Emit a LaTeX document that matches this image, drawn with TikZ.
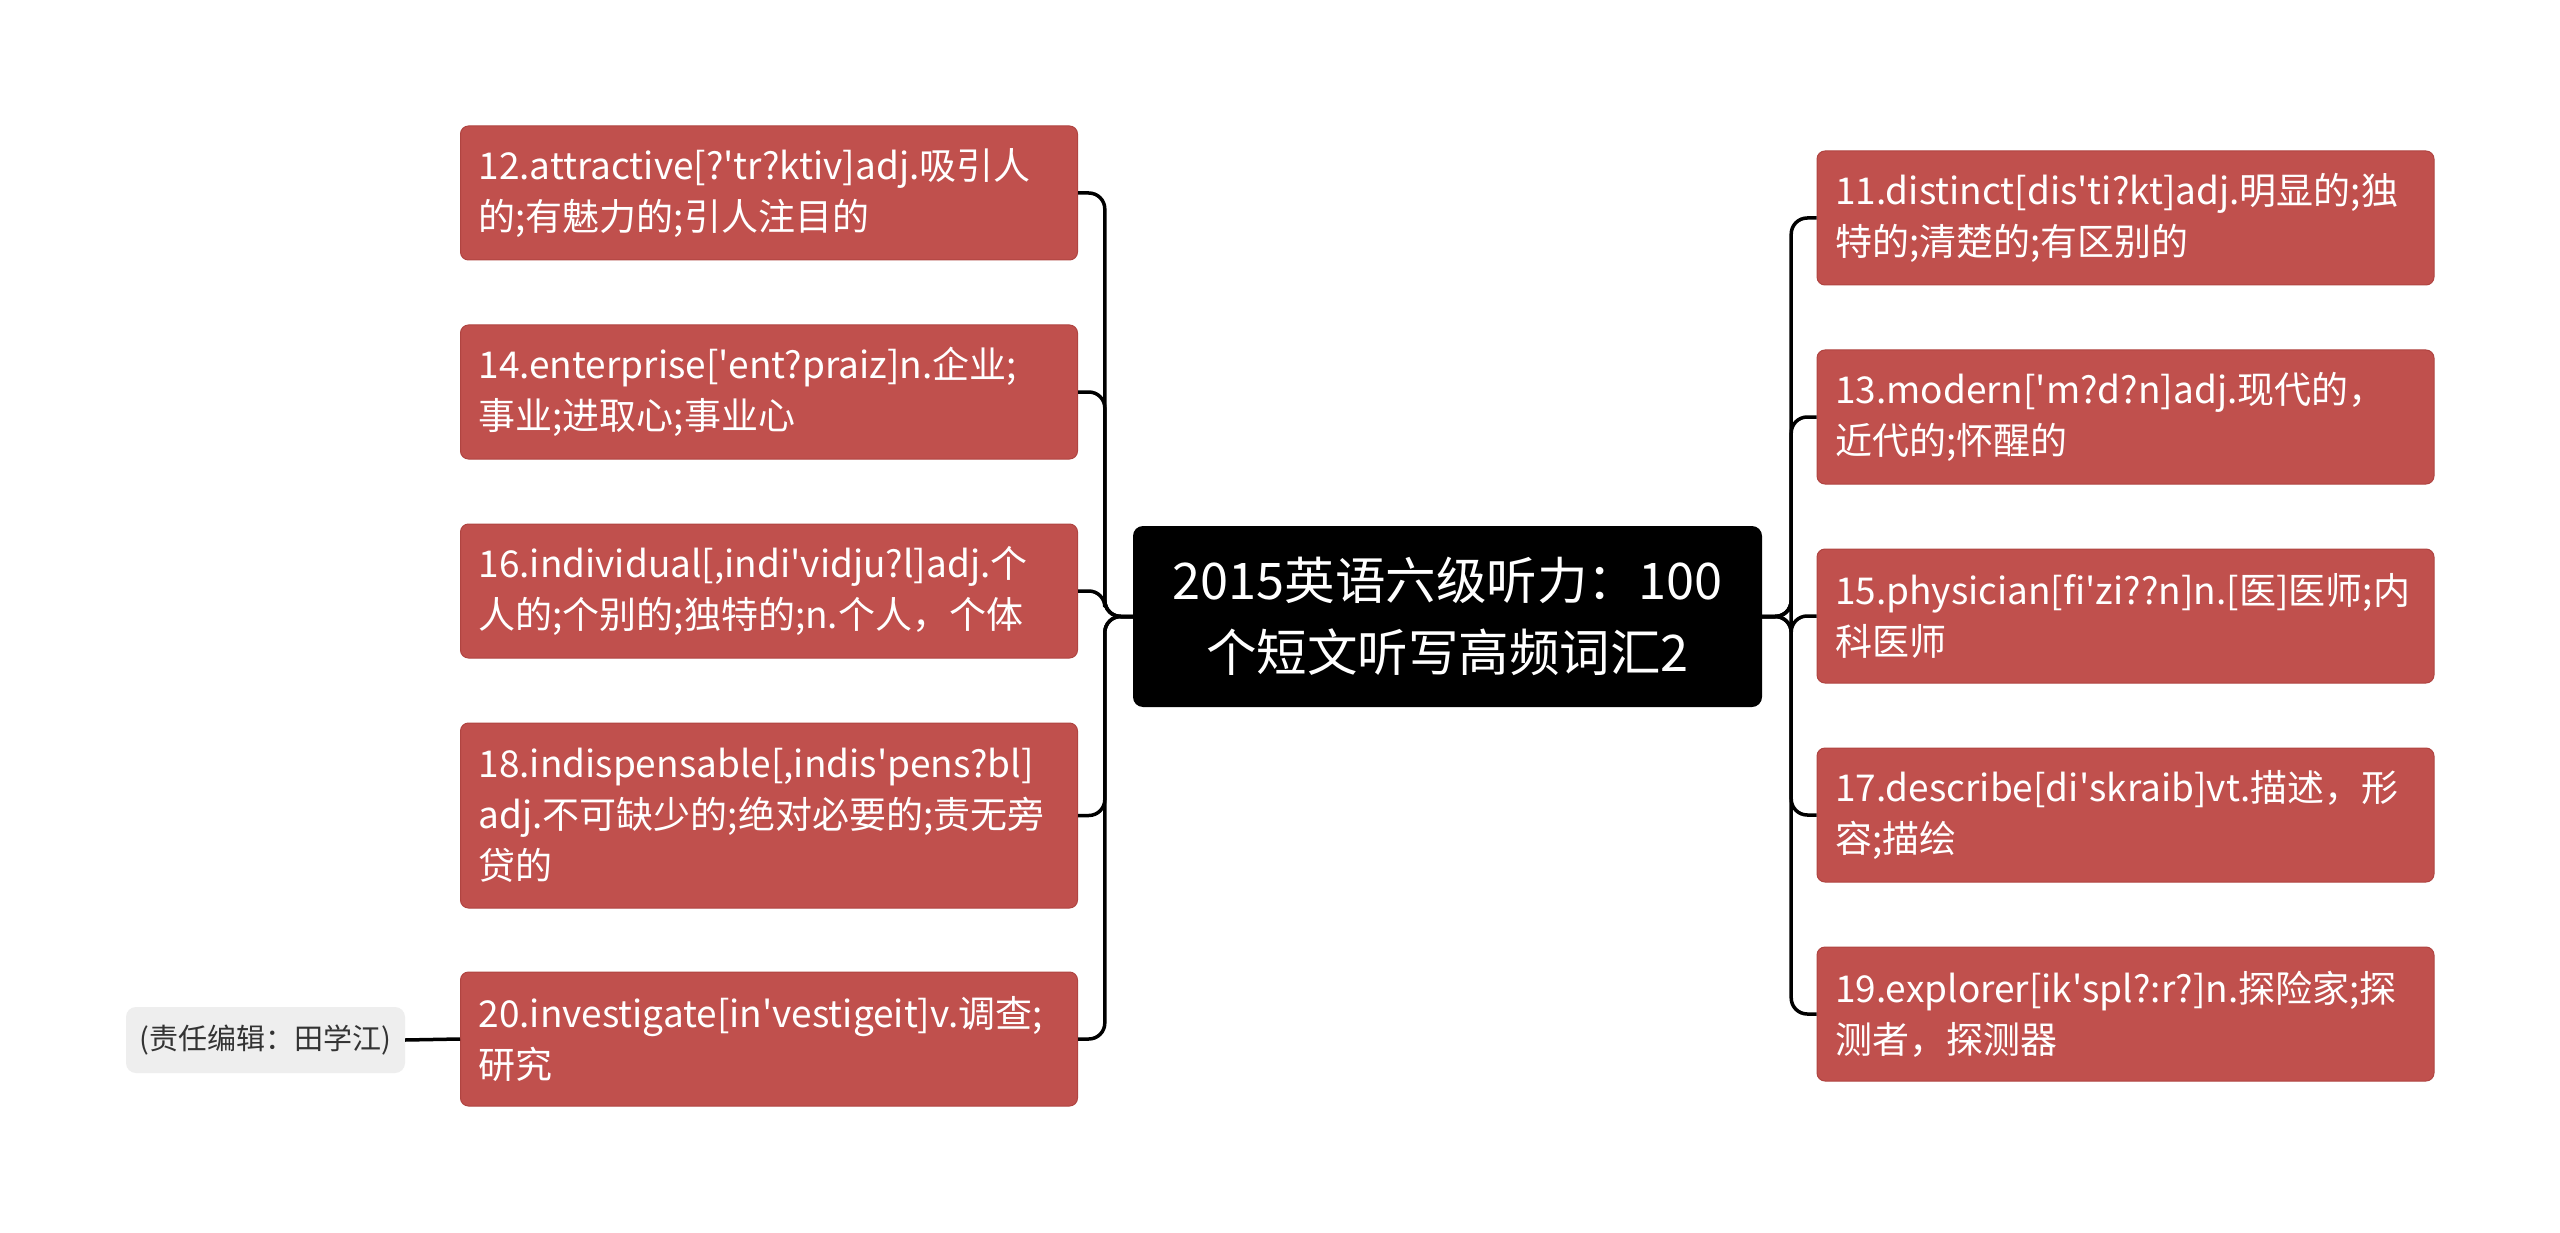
\documentclass[tikz,border=0pt]{standalone}
\usepackage{fontspec}
\setmainfont{Noto Sans CJK SC}
\newcommand{\ap}{\textquotesingle}
\definecolor{leafred}{RGB}{192,80,77}
\definecolor{leafborder}{RGB}{176,68,65}
\definecolor{notefill}{RGB}{238,238,238}
\definecolor{notetext}{RGB}{51,51,51}
\begin{document}
\begin{tikzpicture}[x=1pt,y=-1pt,
  leaf/.style={draw=leafborder, line width=1pt, fill=leafred, rounded corners=8pt, text=white,
    font=\fontsize{37}{51}\selectfont, align=left, text width=581pt, inner xsep=18pt, inner ysep=0pt,
    minimum width=617pt, minimum height=134pt},
  tall/.style={minimum height=185pt},
  rootbox/.style={fill=black, rounded corners=10pt, text=white, font=\fontsize{50.5}{72}\selectfont,
    align=center, minimum width=629pt, minimum height=181pt, inner sep=0pt},
  notebox/.style={fill=notefill, rounded corners=10pt, text=notetext, font=\fontsize{29}{34}\selectfont,
    minimum width=279pt, minimum height=66pt, inner sep=0pt},
  link/.style={draw=black, line width=3.5pt, rounded corners=16pt}
]
\useasboundingbox (0,0) rectangle (2560,1233);
\fill[white] (0,0) rectangle (2560,1233);

\node[rootbox] (root) at (1447.5,616.5) {2015英语六级听力：100\\个短文听写高频词汇2};

\node[leaf] (n12) at (769,193) {12.attractive[?\ap tr?ktiv]adj.吸引人\\的;有魅力的;引人注目的};
\node[leaf] (n14) at (769,392) {14.enterprise[\ap ent?praiz]n.企业;\\事业;进取心;事业心};
\node[leaf] (n16) at (769,591) {16.individual[,indi\ap vidju?l]adj.个\\人的;个别的;独特的;n.个人，个体};
\node[leaf,tall] (n18) at (769,815.5) {18.indispensable[,indis\ap pens?bl]\\adj.不可缺少的;绝对必要的;责无旁\\贷的};
\node[leaf] (n20) at (769,1039) {20.investigate[in\ap vestigeit]v.调查;\\研究};

\node[leaf] (n11) at (2125.5,218) {11.distinct[dis\ap ti?kt]adj.明显的;独\\特的;清楚的;有区别的};
\node[leaf] (n13) at (2125.5,417) {13.modern[\ap m?d?n]adj.现代的，\\近代的;怀醒的};
\node[leaf] (n15) at (2125.5,616) {15.physician[fi\ap zi??n]n.[医]医师;内\\科医师};
\node[leaf] (n17) at (2125.5,815) {17.describe[di\ap skraib]vt.描述，形\\容;描绘};
\node[leaf] (n19) at (2125.5,1014) {19.explorer[ik\ap spl?:r?]n.探险家;探\\测者，探测器};

\node[notebox] (note) at (265.5,1040) {(责任编辑：田学江)};

\foreach \n in {n12,n14,n16,n18,n20}
  \draw[link] (root.west) -- ++(-28,0) |- (\n.east);
\foreach \n in {n11,n13,n15,n17,n19}
  \draw[link] (root.east) -- ++(29,0) |- (\n.west);
\draw[link] (note.east) -- (n20.west);
\end{tikzpicture}
\end{document}
